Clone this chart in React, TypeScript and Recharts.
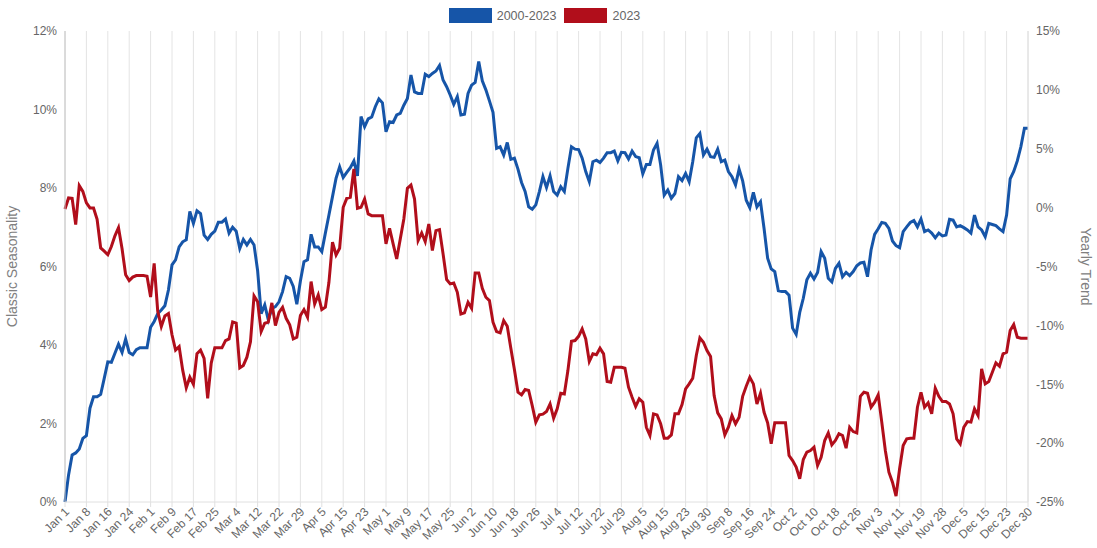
import { CartesianGrid, Line, LineChart, XAxis, YAxis } from "recharts";

// trading-day positions (6 per labelled date), Jan 1 .. Dec 30
const tickLabels = [
  "Jan 1", "Jan 8", "Jan 16", "Jan 24", "Feb 1", "Feb 9", "Feb 17", "Feb 25",
  "Mar 4", "Mar 12", "Mar 22", "Mar 29", "Apr 5", "Apr 15", "Apr 23",
  "May 1", "May 9", "May 17", "May 25", "Jun 2", "Jun 10", "Jun 18", "Jun 26",
  "Jul 4", "Jul 12", "Jul 22", "Jul 29", "Aug 5", "Aug 15", "Aug 23", "Aug 30",
  "Sep 8", "Sep 16", "Sep 24", "Oct 2", "Oct 10", "Oct 18", "Oct 26",
  "Nov 3", "Nov 11", "Nov 19", "Nov 28", "Dec 5", "Dec 15", "Dec 23", "Dec 30",
];
const STEP = 6;

// 2000-2023 classic seasonality, %
const seasonality = [
  0, 0.69, 1.2, 1.25, 1.35, 1.62, 1.69, 2.39, 2.68, 2.68,
  2.74, 3.15, 3.57, 3.56, 3.79, 4.02, 3.81, 4.15, 3.81, 3.75,
  3.88, 3.93, 3.93, 3.93, 4.45, 4.6, 4.8, 4.89, 5.0, 5.4,
  6.04, 6.17, 6.5, 6.63, 6.68, 7.4, 7.1, 7.42, 7.35, 6.8,
  6.69, 6.82, 6.9, 7.13, 7.13, 7.21, 6.85, 7.0, 6.9, 6.46,
  6.69, 6.55, 6.69, 6.55, 5.9, 4.8, 5.02, 4.64, 4.93, 4.98,
  5.1, 5.36, 5.74, 5.7, 5.49, 5.04, 5.63, 6.12, 6.17, 6.82,
  6.5, 6.5, 6.38, 6.85, 7.31, 7.78, 8.25, 8.54, 8.27, 8.4,
  8.52, 8.69, 8.31, 9.82, 9.56, 9.76, 9.81, 10.07, 10.27, 10.17,
  9.43, 9.69, 9.67, 9.86, 9.9, 10.11, 10.28, 10.88, 10.45, 10.41,
  10.41, 10.9, 10.84, 10.92, 10.98, 11.12, 10.75, 10.58, 10.37, 10.13,
  10.33, 9.86, 9.88, 10.41, 10.62, 10.69, 11.22, 10.73, 10.5, 10.22,
  9.93, 9.01, 9.05, 8.84, 9.16, 8.73, 8.76, 8.48, 8.14, 7.91,
  7.52, 7.46, 7.57, 7.91, 8.29, 8.01, 8.31, 7.91, 7.82, 8.03,
  7.91, 8.5, 9.05, 8.99, 8.98, 8.76, 8.42, 8.16, 8.67, 8.71,
  8.65, 8.76, 8.9, 8.9, 8.94, 8.69, 8.91, 8.9, 8.74, 8.94,
  8.8, 8.77, 8.36, 8.6, 8.6, 8.97, 9.14, 8.59, 7.82, 7.95,
  7.74, 7.86, 8.29, 8.19, 8.37, 8.16, 8.67, 9.28, 9.39, 8.84,
  8.99, 8.8, 8.78, 8.99, 8.67, 8.71, 8.42, 8.29, 8.08, 8.48,
  8.18, 7.69, 7.5, 7.89, 7.52, 7.65, 6.97, 6.21, 5.94, 5.87,
  5.38, 5.36, 5.36, 5.27, 4.43, 4.27, 4.83, 5.19, 5.66, 5.83,
  5.68, 5.85, 6.38, 6.21, 5.7, 5.61, 5.95, 6.08, 5.74, 5.85,
  5.77, 5.87, 6.02, 6.09, 6.11, 5.74, 6.42, 6.82, 6.96, 7.12,
  7.1, 6.97, 6.65, 6.53, 6.48, 6.89, 7.01, 7.12, 7.17, 7.01,
  7.21, 6.89, 6.93, 6.85, 6.73, 6.85, 6.78, 6.8, 7.2, 7.18,
  7.01, 7.04, 6.99, 6.93, 6.85, 7.31, 7.01, 6.93, 6.76, 7.1,
  7.07, 7.04, 6.96, 6.89, 7.31, 8.23, 8.42, 8.69, 9.05, 9.52,
  9.52,
];

// 2023 yearly trend, %
const trend2023 = [
  -0.11, 0.82, 0.79, -1.44, 1.87, 1.38, 0.4, -0.03, -0.03, -1.0,
  -3.42, -3.7, -4.0, -3.3, -2.4, -1.7, -3.5, -5.7, -6.2, -5.9,
  -5.77, -5.77, -5.77, -5.83, -7.6, -4.73, -8.8, -10.1, -9.2, -9.0,
  -10.8, -12.1, -11.8, -13.8, -15.3, -14.4, -15.0, -12.4, -12.1, -12.8,
  -16.2, -13.2, -11.9, -11.91, -11.91, -11.3, -11.15, -9.7, -9.8, -13.6,
  -13.4, -12.7, -11.4, -7.5, -8.0, -10.53, -9.82, -9.73, -8.09, -10.02,
  -8.89, -8.46, -9.4, -9.96, -11.15, -11.01, -9.17, -8.66, -9.31, -6.28,
  -8.18, -7.41, -8.66, -8.46, -6.34, -2.94, -4.02, -3.45, 0.03, 0.79,
  0.88, 3.28, -0.06, 0.03, 0.73, -0.54, -0.68, -0.68, -0.68, -0.68,
  -3.08, -1.75, -3.08, -4.36, -2.66, -0.96, 1.64, 1.92, 0.73, -2.8,
  -2.15, -2.89, -1.39, -3.65, -1.95, -1.87, -3.93, -6.11, -6.48, -6.4,
  -7.19, -9.03, -8.94, -8.04, -8.55, -5.55, -5.55, -6.85, -7.61, -7.89,
  -9.73, -10.53, -10.64, -9.59, -10.07, -11.94, -13.75, -15.68, -15.9, -15.45,
  -15.53, -16.81, -18.22, -17.6, -17.54, -17.32, -16.67, -17.88, -17.09, -15.76,
  -15.82, -13.84, -11.35, -11.29, -10.93, -10.3, -11.15, -13.07, -12.42, -12.5,
  -11.94, -12.42, -14.77, -14.83, -13.56, -13.56, -13.56, -13.64, -15.25, -16.1,
  -16.89, -16.24, -16.52, -18.65, -19.35, -17.51, -17.6, -18.36, -19.58, -19.58,
  -19.3, -17.51, -17.51, -16.72, -15.39, -14.97, -14.49, -12.56, -11.06, -11.43,
  -12.14, -12.65, -15.96, -17.43, -17.94, -19.3, -18.65, -17.66, -18.36, -17.8,
  -16.02, -15.17, -14.41, -14.97, -16.67, -15.76, -17.38, -18.28, -20.06, -18.28,
  -18.28, -18.28, -18.28, -21.05, -21.48, -22.04, -23.03, -21.39, -20.77, -20.63,
  -20.35, -21.9, -21.2, -19.78, -19.13, -20.15, -19.78, -19.21, -19.35, -20.43,
  -18.65, -19.02, -19.13, -16.02, -15.68, -15.76, -16.95, -16.52, -15.9, -18.22,
  -20.63, -22.47, -23.32, -24.5, -22.18, -20.2, -19.64, -19.58, -19.58, -16.95,
  -15.68, -16.95, -16.58, -17.51, -15.34, -16.02, -16.47, -16.47, -16.67, -17.51,
  -19.64, -20.06, -18.65, -18.17, -18.22, -17.09, -17.66, -13.69, -14.97, -14.77,
  -13.98, -13.18, -13.47, -12.42, -12.28, -10.44, -9.93, -11.01, -11.09, -11.09,
  -11.09,
];

const leftTicks = [0, 2, 4, 6, 8, 10, 12];
const rightTicks = [-25, -20, -15, -10, -5, 0, 5, 10, 15];

const BLUE = "#1655a8";
const RED = "#b10e1b";
const FONT = "'Liberation Sans', Arial, sans-serif";

const data = seasonality.map((v, i) => ({ i, seasonality: v, trend: trend2023[i] }));

function DateTick({ x, y, payload }: any) {
  const label = tickLabels[Math.round(payload.value / STEP)];
  return (
    <text
      x={x}
      y={y}
      dx={1}
      dy={6}
      transform={`rotate(-45 ${x} ${y})`}
      textAnchor="end"
      fill="#666"
      fontSize={12}
      fontFamily={FONT}
    >
      {label}
    </text>
  );
}

function LegendItem({ color, label }: { color: string; label: string }) {
  return (
    <div style={{ display: "flex", alignItems: "center", marginRight: 8 }}>
      <div
        style={{
          width: 43,
          height: 13,
          background: color,
          borderTop: `1px solid ${color}99`,
          borderBottom: `1px solid ${color}99`,
          marginRight: 5,
        }}
      />
      <span style={{ fontSize: 12.5, color: "#666" }}>{label}</span>
    </div>
  );
}

export default function App() {
  return (
    <div style={{ position: "absolute", left: 0, top: 0, width: 1097, height: 548, fontFamily: FONT, background: "#fff" }}>
      <div style={{ position: "absolute", top: 8, left: 0, width: 1097, display: "flex", justifyContent: "center" }}>
        <LegendItem color={BLUE} label="2000-2023" />
        <LegendItem color={RED} label="2023" />
      </div>
      <LineChart width={1097} height={548} data={data} margin={{ top: 31, right: 0, bottom: 0, left: 0 }}>
        <CartesianGrid horizontal={false} stroke="#e4e4e4" />
        <XAxis
          dataKey="i"
          type="number"
          domain={[0, seasonality.length - 1]}
          ticks={tickLabels.map((_, k) => k * STEP)}
          interval={0}
          height={46}
          tickSize={5}
          tick={<DateTick />}
          stroke="#e0e0e0"
        />
        <YAxis
          yAxisId="left"
          width={65}
          domain={[0, 12]}
          ticks={leftTicks}
          tickFormatter={(v) => `${v}%`}
          tickLine={false}
          tick={{ fill: "#666", fontSize: 12, fontFamily: FONT }}
          stroke="#c4c4c4"
          label={{
            value: "Classic Seasonality",
            angle: -90,
            position: "insideLeft",
            offset: 12,
            style: { textAnchor: "middle", fill: "#808080", fontSize: 14, fontFamily: FONT },
          }}
        />
        <YAxis
          yAxisId="right"
          orientation="right"
          width={69}
          domain={[-25, 15]}
          ticks={rightTicks}
          tickFormatter={(v) => `${v}%`}
          tickLine={false}
          tick={{ fill: "#666", fontSize: 12, fontFamily: FONT, textAnchor: "start" }}
          stroke="#e0e0e0"
          label={{
            value: "Yearly Trend",
            angle: 90,
            position: "insideRight",
            offset: 11,
            style: { textAnchor: "middle", fill: "#808080", fontSize: 14, fontFamily: FONT },
          }}
        />
        <Line
          yAxisId="left"
          type="linear"
          dataKey="seasonality"
          stroke={BLUE}
          strokeWidth={3}
          dot={false}
          isAnimationActive={false}
        />
        <Line
          yAxisId="right"
          type="linear"
          dataKey="trend"
          stroke={RED}
          strokeWidth={3}
          dot={false}
          isAnimationActive={false}
        />
      </LineChart>
    </div>
  );
}
